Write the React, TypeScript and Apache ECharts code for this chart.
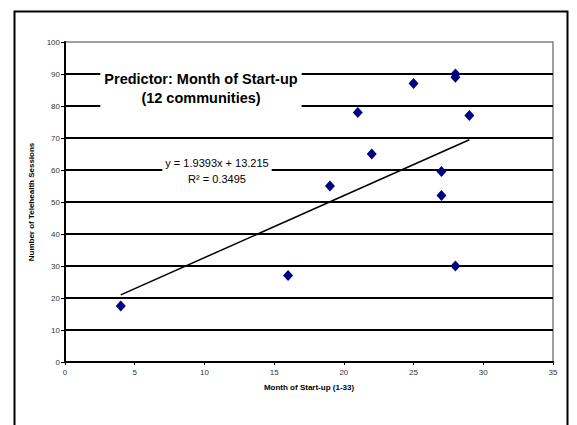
import React, { useEffect, useRef } from "react";
import * as echarts from "echarts";

const monthOfStartup = [4, 16, 19, 21, 22, 25, 27, 27, 28, 28, 28, 29];
const sessions = [17.5, 27, 55, 78, 65, 87, 59.5, 52, 90, 89, 30, 77];
const slope = 1.9393;
const intercept = 13.215;
const trendRange = [4, 29];
const titleLines = ["Predictor: Month of Start-up", "(12 communities)"];
const equationLines = ["y = 1.9393x + 13.215", "R² = 0.3495"];

export default function App() {
  const ref = useRef<HTMLDivElement>(null);
  useEffect(() => {
    if (!ref.current) return;
    const chart = echarts.init(ref.current, undefined, { renderer: "svg" });
    const points = monthOfStartup.map((x, i) => [x, sessions[i]]);
    const trend = trendRange.map((x) => [x, slope * x + intercept]);
    chart.setOption({
      animation: false,
      backgroundColor: "#fff",
      textStyle: { fontFamily: "Arial, Liberation Sans, sans-serif" },
      grid: {
        left: 65,
        top: 42,
        right: 24,
        bottom: 63,
        show: true,
        borderColor: "#808080",
        borderWidth: 1.5,
        backgroundColor: "transparent",
      },
      xAxis: {
        type: "value",
        min: 0,
        max: 35,
        interval: 5,
        name: "Month of Start-up (1-33)",
        nameLocation: "middle",
        nameGap: 21,
        nameTextStyle: { fontSize: 8, fontWeight: "bold", color: "#000" },
        axisLine: { show: true, onZero: false, lineStyle: { color: "#000", width: 2 } },
        axisTick: { show: true, length: 3, lineStyle: { color: "#000", width: 1 } },
        axisLabel: { fontSize: 8, color: "#333", margin: 6 },
        splitLine: { show: false },
      },
      yAxis: {
        type: "value",
        min: 0,
        max: 100,
        interval: 10,
        name: "Number of Telehealth Sessions",
        nameLocation: "middle",
        nameRotate: 90,
        nameGap: 18,
        nameTextStyle: { fontSize: 8, fontWeight: "bold", color: "#000" },
        axisLine: { show: true, lineStyle: { color: "#000", width: 2 } },
        axisTick: { show: true, length: 4, lineStyle: { color: "#000", width: 1 } },
        axisLabel: { fontSize: 8, color: "#333", margin: 5 },
        splitLine: { show: true, showMaxLine: false, lineStyle: { color: "#000", width: 2 } },
      },
      series: [
        {
          type: "line",
          data: trend,
          symbol: "none",
          lineStyle: { color: "#000", width: 1.5 },
          z: 3,
        },
        {
          type: "scatter",
          data: points,
          symbol: "diamond",
          symbolSize: [10, 11],
          itemStyle: { color: "#000080", opacity: 1 },
          z: 4,
        },
      ],
      graphic: [
        {
          type: "rect",
          left: 12,
          top: 9,
          shape: { width: 553, height: 440 },
          style: { fill: "none", stroke: "#000", lineWidth: 2 },
          z: 1,
        },
        {
          type: "text",
          x: 201,
          y: 67,
          z: 10,
          style: {
            text: titleLines.join("\n"),
            font: "bold 14.5px Arial, Liberation Sans, sans-serif",
            fill: "#000",
            align: "center",
            verticalAlign: "top",
            lineHeight: 19,
            backgroundColor: "#fff",
            padding: [2, 4, 3, 4],
          },
        },
        {
          type: "text",
          x: 217,
          y: 155,
          z: 10,
          style: {
            text: equationLines.join("\n"),
            font: "11px Arial, Liberation Sans, sans-serif",
            fill: "#000",
            align: "center",
            verticalAlign: "top",
            lineHeight: 16,
            backgroundColor: "#fff",
            padding: [0, 3, 0, 3],
          },
        },
      ],
    });
    return () => chart.dispose();
  }, []);
  return (
    <div
      ref={ref}
      style={{ position: "fixed", left: 0, top: 0, width: 577, height: 425 }}
    />
  );
}
